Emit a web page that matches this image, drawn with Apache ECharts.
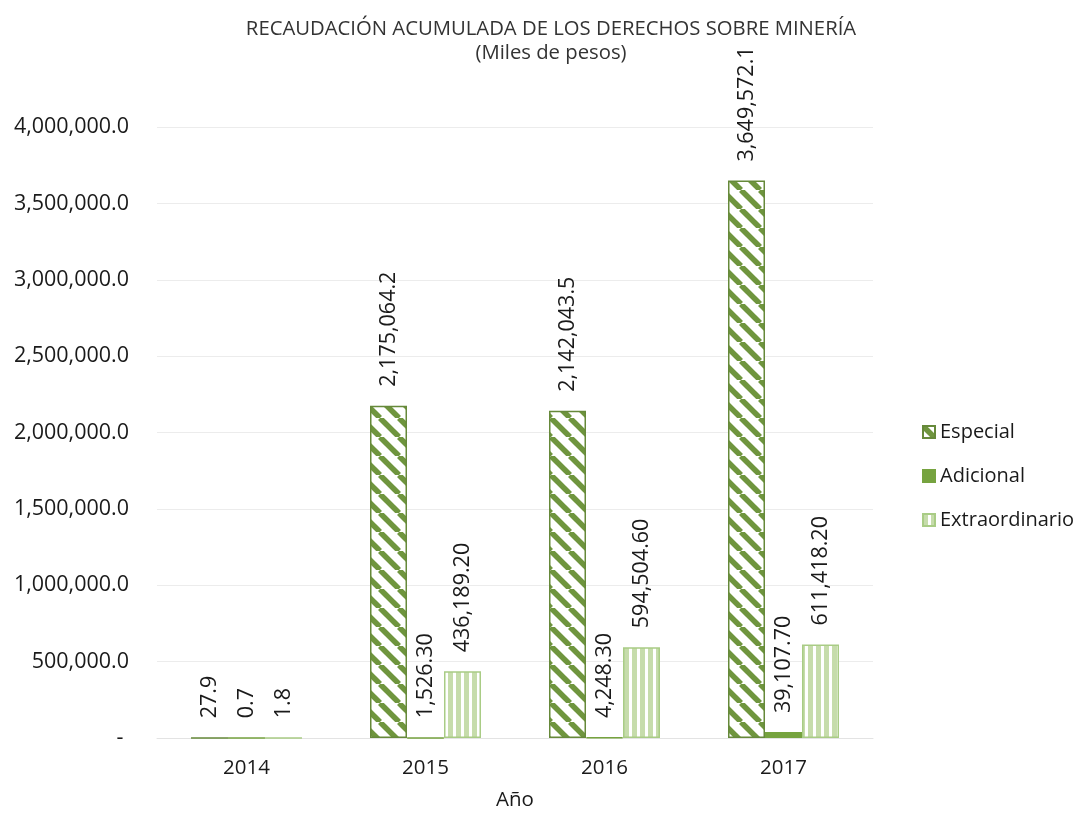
<!DOCTYPE html>
<html>
<head>
<meta charset="utf-8">
<script src="https://cdn.jsdelivr.net/npm/echarts@6/dist/echarts.min.js"></script>
<style>
html,body{margin:0;padding:0;background:#fff;overflow:hidden;}
#chart{width:1074px;height:814px;}
</style>
</head>
<body>
<div id="chart"></div>
<script>
// ---- data ----
const categories = ['2014', '2015', '2016', '2017'];
const seriesNames = ['Especial', 'Adicional', 'Extraordinario'];
const especial = [27.9, 2175064.2, 2142043.5, 3649572.1];
const adicional = [0.7, 1526.3, 4248.3, 39107.7];
const extraordinario = [1.8, 436189.2, 594504.6, 611418.2];
const especialDecimals = [1, 1, 1, 1];
const adicionalDecimals = [1, 2, 2, 2];
const extraordinarioDecimals = [1, 2, 2, 2];

const FONT = 'Open Sans';
const TXT = '#1a1a1a';

function fmt(v, d) {
  return v.toLocaleString('en-US', {minimumFractionDigits: d, maximumFractionDigits: d});
}

function diagPattern() {
  const S = 19;
  const c = document.createElement('canvas');
  c.width = S; c.height = S;
  const g = c.getContext('2d');
  g.fillStyle = '#ffffff';
  g.fillRect(0, 0, S, S);
  g.strokeStyle = '#6f953e';
  g.lineWidth = 5.5;
  for (const k of [-S, 0, S]) {
    g.beginPath();
    g.moveTo(k, 0);
    g.lineTo(k + S, S);
    g.stroke();
  }
  return c;
}
function vertPattern() {
  const W = 8;
  const c = document.createElement('canvas');
  c.width = W; c.height = 8;
  const g = c.getContext('2d');
  g.fillStyle = '#ffffff';
  g.fillRect(0, 0, W, 8);
  g.fillStyle = '#c6dcab';
  g.fillRect(0, 0, 5, 8);
  return c;
}

const especialFill = {image: diagPattern(), repeat: 'repeat'};
const extraFill = {image: vertPattern(), repeat: 'repeat'};

function makeLabel(decimals) {
  return {
    show: true,
    position: 'top',
    rotate: 90,
    align: 'left',
    verticalAlign: 'middle',
    distance: 19,
    fontFamily: FONT,
    fontSize: 21.5,
    color: TXT,
    formatter: p => fmt(p.value, decimals[p.dataIndex])
  };
}

const chart = echarts.init(document.getElementById('chart'), null, {renderer: 'canvas'});
chart.setOption({
  animation: false,
  backgroundColor: '#ffffff',
  title: [
    {
      text: 'RECAUDACIÓN ACUMULADA DE LOS DERECHOS SOBRE MINERÍA',
      left: 546, top: 14, textAlign: 'center',
      textStyle: {fontFamily: FONT, fontSize: 20.3, fontWeight: 'normal', color: '#333333'}
    },
    {
      text: '(Miles de pesos)',
      left: 546, top: 38, textAlign: 'center',
      textStyle: {fontFamily: FONT, fontSize: 20.3, fontWeight: 'normal', color: '#333333'}
    }
  ],
  legend: {
    orient: 'vertical',
    left: 917,
    top: 417,
    itemWidth: 12,
    itemHeight: 12,
    itemGap: 24,
    icon: 'rect',
    textStyle: {fontFamily: FONT, fontSize: 20, color: TXT},
    data: seriesNames
  },
  grid: {left: 157, right: 201, top: 127, bottom: 76, outerBoundsMode: 'none', containLabel: false},
  xAxis: {
    type: 'category',
    data: categories,
    name: 'Año',
    nameLocation: 'middle',
    nameGap: 52,
    nameTextStyle: {fontFamily: FONT, fontSize: 20.5, color: TXT},
    axisLine: {show: true, lineStyle: {color: '#e3e3e3', width: 1}},
    axisTick: {show: false},
    axisLabel: {fontFamily: FONT, fontSize: 20.5, color: TXT, margin: 20}
  },
  yAxis: {
    type: 'value',
    min: 0,
    max: 4000000,
    interval: 500000,
    axisLine: {show: false},
    axisTick: {show: false},
    splitLine: {lineStyle: {color: '#ececec', width: 1}},
    axisLabel: {
      fontFamily: FONT, fontSize: 21.5, color: TXT, margin: 28,
      formatter: v => v === 0 ? '- ' : fmt(v, 1)
    }
  },
  series: [
    {
      name: seriesNames[0], type: 'bar', data: especial,
      barGap: '0%', barCategoryGap: '38%',
      itemStyle: {color: especialFill, borderColor: '#66893a', borderWidth: 1.5},
      label: makeLabel(especialDecimals)
    },
    {
      name: seriesNames[1], type: 'bar', data: adicional,
      barGap: '0%', barCategoryGap: '38%',
      itemStyle: {color: '#76a33f', borderColor: '#76a33f', borderWidth: 1.5},
      label: makeLabel(adicionalDecimals)
    },
    {
      name: seriesNames[2], type: 'bar', data: extraordinario,
      barGap: '0%', barCategoryGap: '38%',
      itemStyle: {color: extraFill, borderColor: '#a9cc85', borderWidth: 1.5},
      label: makeLabel(extraordinarioDecimals)
    }
  ]
});
</script>
</body>
</html>
